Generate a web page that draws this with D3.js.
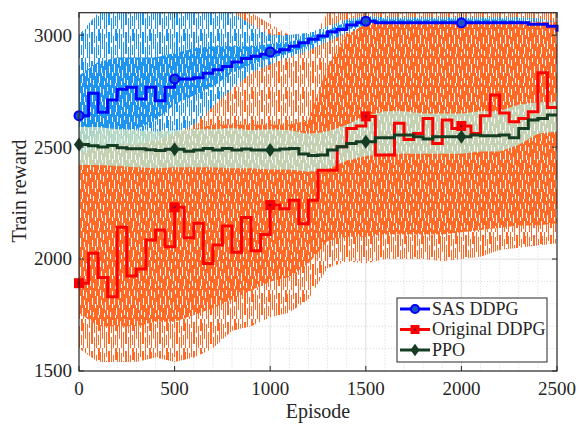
<!DOCTYPE html>
<html><head><meta charset="utf-8">
<script src="https://cdn.jsdelivr.net/npm/d3@7"></script>
<style>
body{margin:0;background:#fff}
svg{display:block}
</style>
</head><body>
<svg id="chart" width="579" height="424" font-family="'Liberation Serif','DejaVu Serif','Times New Roman',serif"></svg>
<script>
// ---- data ----
const episodes = d3.range(0, 2501, 50);          // smoothed step positions
const envEpisodes = d3.range(0, 2501, 100);      // raw-envelope positions
const seriesNames = ["SAS DDPG", "Original DDPG", "PPO"];
const sasDDPG = [2640,2740,2655,2710,2758,2767,2715,2767,2707,2767,
  2804,2804,2810,2830,2845,2860,2880,2895,2905,2915,
  2924,2935,2950,2966,2981,2996,3015,3025,3045,3055,
  3062,3055,3055,3055,3055,3055,3055,3055,3055,3055,
  3055,3055,3055,3055,3055,3055,3055,3048,3048,3040,3015];
const originalDDPG = [1892,2026,1917,1832,2142,1924,1955,2085,2130,2055,
  2231,2095,2160,1980,2063,2147,2030,2186,2037,2110,
  2241,2224,2262,2158,2263,2397,2397,2501,2583,2594,
  2637,2464,2464,2606,2534,2561,2628,2516,2621,2583,
  2594,2561,2640,2732,2652,2613,2628,2658,2832,2677,2677];
const ppo = [2512,2506,2500,2507,2497,2493,2492,2488,2485,2490,
  2490,2481,2487,2494,2487,2494,2487,2491,2487,2487,
  2487,2491,2494,2469,2462,2465,2487,2501,2516,2524,
  2524,2542,2542,2554,2554,2546,2536,2546,2546,2546,
  2546,2554,2550,2550,2554,2542,2583,2621,2628,2643,2643];
// raw (unsmoothed) reward: full extent and dense core, every 100 episodes
const sasRawHigh = [3000,3100,3100,3100,3100,3100,3100,3100,3100,3050,3000,3000,3010,3040,3070,3085,3080,3080,3080,3080,3080,3080,3080,3080,3075,3060];
const sasRawLow  = [2400,2350,2340,2350,2420,2550,2600,2680,2760,2830,2870,2900,2930,2970,3010,3035,3035,3035,3035,3035,3035,3035,3035,3030,3025,3000];
const sasCoreHigh = [2820,2880,2900,2900,2900,2920,2940,2950,2950,2950,2960,2970,2990,3020,3060,3075,3070,3070,3070,3070,3070,3070,3070,3065,3060,3045];
const sasCoreLow  = [2520,2560,2580,2580,2620,2690,2730,2770,2830,2870,2895,2920,2950,2990,3025,3045,3045,3045,3045,3045,3045,3040,3040,3035,3030,3010];
const origRawHigh = [2650,2700,2750,2750,2800,2900,3000,3100,3100,3100,3050,3000,2950,3100,3100,3100,3100,3100,3100,3100,3100,3100,3100,3100,3100,3100];
const origRawLow  = [1600,1540,1540,1540,1560,1540,1560,1600,1680,1700,1740,1760,1820,1960,1990,1980,2000,2000,2000,1990,2000,2010,2040,2050,2060,2070];
const origCoreHigh = [2470,2500,2510,2510,2530,2560,2580,2600,2600,2600,2600,2600,2620,2860,3000,3050,3060,3060,3060,3060,3060,3060,3060,3060,3060,3060];
const origCoreLow  = [1760,1700,1700,1700,1720,1720,1750,1780,1820,1860,1900,1920,1980,2080,2100,2100,2110,2110,2110,2110,2120,2130,2140,2150,2150,2160];
const ppoRawHigh = [2590,2590,2580,2575,2570,2575,2580,2580,2585,2575,2580,2575,2560,2570,2600,2640,2660,2660,2650,2650,2650,2660,2660,2690,2700,2700];
const ppoRawLow  = [2420,2420,2415,2410,2405,2410,2410,2410,2405,2405,2400,2400,2390,2400,2440,2460,2470,2470,2470,2470,2470,2480,2480,2510,2560,2570];
const xTicks = [0,500,1000,1500,2000,2500];
const yTicks = [1500,2000,2500,3000];
const markerIdx = [0,10,20,30,40];

// ---- layout ----
const svg = d3.select("#chart");
const L = 79, R = 557, T = 12.7, B = 371;
const x = d3.scaleLinear().domain([0,2500]).range([L,R]);
const y = d3.scaleLinear().domain([1500,3100]).range([B,T]);
const ink = "#262626";

const defs = svg.append("defs");
defs.append("clipPath").attr("id","clip").append("rect")
  .attr("x",L).attr("y",T).attr("width",R-L).attr("height",B-T);
// streak textures (decoration only)
const PW = 17, PH = 29;
const denseGaps = [[1,2,6],[3,12,8],[5,0,4],[5,20,5],[7,8,7],[8,22,5],[10,1,5],[10,14,4],[12,6,9],[14,18,7],[15,0,6],[16,10,5],[2,23,4],[13,25,3],[0,15,3]];
const sparseStreaks = [[0,0,1,20],[2,5,1,24],[4,0,1,9],[4,13,1,16],[6,3,2,22],[9,0,1,14],[9,18,1,11],[11,7,1,22],[13,0,2,12],[13,16,1,10],[15,4,1,25]];
function densePattern(id, color){
  const p = defs.append("pattern").attr("id",id).attr("patternUnits","userSpaceOnUse")
    .attr("width",PW).attr("height",PH);
  p.append("rect").attr("width",PW).attr("height",PH).attr("fill",color);
  denseGaps.forEach(([gx,gy,h])=>p.append("rect").attr("x",gx).attr("y",gy).attr("width",1).attr("height",h).attr("fill","#fff"));
}
function sparsePattern(id, color){
  const p = defs.append("pattern").attr("id",id).attr("patternUnits","userSpaceOnUse")
    .attr("width",PW).attr("height",PH);
  sparseStreaks.forEach(([sx,sy,w,h])=>p.append("rect").attr("x",sx).attr("y",sy).attr("width",w).attr("height",h).attr("fill",color));
}
densePattern("dBlue","#1e96f0");  sparsePattern("sBlue","#1e96f0");
densePattern("dOrange","#ff6a26"); sparsePattern("sOrange","#ff6a26");
densePattern("dGreen","#bddcc1");

// grid
const g = svg.append("g");
g.selectAll(".vmin").data(d3.range(100,2500,100).filter(v=>v%500)).enter().append("line")
  .attr("x1",d=>x(d)).attr("x2",d=>x(d)).attr("y1",T).attr("y2",B)
  .attr("stroke","#cfcfcf").attr("stroke-width",0.8).attr("stroke-dasharray","1,2");
g.selectAll(".hmin").data(d3.range(1600,3100,100).filter(v=>v%500)).enter().append("line")
  .attr("y1",d=>y(d)).attr("y2",d=>y(d)).attr("x1",L).attr("x2",R)
  .attr("stroke","#cfcfcf").attr("stroke-width",0.8).attr("stroke-dasharray","1,2");
g.selectAll(".vmaj").data(xTicks.slice(1,-1)).enter().append("line")
  .attr("x1",d=>x(d)).attr("x2",d=>x(d)).attr("y1",T).attr("y2",B)
  .attr("stroke","#e3e3e3").attr("stroke-width",1.2);
g.selectAll(".hmaj").data(yTicks.slice(1)).enter().append("line")
  .attr("y1",d=>y(d)).attr("y2",d=>y(d)).attr("x1",L).attr("x2",R)
  .attr("stroke","#e3e3e3").attr("stroke-width",1.2);

// raw envelopes
const plot = svg.append("g").attr("clip-path","url(#clip)");
function band(hi, lo, fill, op){
  const data = envEpisodes.map((e,i)=>({e, hi:hi[i], lo:lo[i]}));
  plot.append("path").datum(data)
    .attr("d", d3.area().x(d=>x(d.e)).y0(d=>y(d.lo)).y1(d=>y(d.hi)))
    .attr("fill", fill).attr("opacity", op);
}
band(origRawHigh, origRawLow, "url(#sOrange)", 1);
band(sasRawHigh, sasRawLow, "url(#sBlue)", 1);
band(sasCoreHigh, sasCoreLow, "url(#dBlue)", 1);
band(origCoreHigh, origCoreLow, "url(#dOrange)", 1);
band(ppoRawHigh, ppoRawLow, "url(#dGreen)", 0.9);

// smoothed step lines
const seriesDefs = [
  {vals: sasDDPG, color:"#0000ff", marker:"circle"},
  {vals: originalDDPG, color:"#ff0000", marker:"square"},
  {vals: ppo, color:"#153d24", marker:"diamond"}
];
const lineGen = d3.line().x(d=>x(d.e)).y(d=>y(d.v)).curve(d3.curveStepAfter);
function drawMarker(sel, type, color, cx, cy, s){
  if(type==="circle"){
    sel.append("circle").attr("cx",cx).attr("cy",cy).attr("r",4.5*s)
      .attr("fill","#1f4bd8").attr("stroke",color).attr("stroke-width",2);
    sel.append("circle").attr("cx",cx).attr("cy",cy).attr("r",1.3*s).attr("fill","#0a6f8a");
  } else if(type==="square"){
    sel.append("rect").attr("x",cx-5*s).attr("y",cy-5*s).attr("width",10*s).attr("height",10*s)
      .attr("fill",color);
    sel.append("circle").attr("cx",cx).attr("cy",cy).attr("r",1.3*s).attr("fill","#8a0a3a");
  } else {
    const r = 7*s;
    sel.append("path").attr("d",`M${cx},${cy-r}L${cx+r*0.72},${cy}L${cx},${cy+r}L${cx-r*0.72},${cy}Z`)
      .attr("fill",color);
  }
}
const lines = svg.append("g");
seriesDefs.forEach(s=>{
  const data = episodes.map((e,i)=>({e, v:s.vals[i]}));
  lines.append("path").datum(data).attr("d",lineGen)
    .attr("fill","none").attr("stroke",s.color).attr("stroke-width",3).attr("stroke-linejoin","miter");
});
seriesDefs.forEach(s=>{
  markerIdx.forEach(i=>drawMarker(lines, s.marker, s.color, x(episodes[i]), y(s.vals[i]), 1));
});

// axes box & ticks
const ax = svg.append("g").attr("fill",ink);
ax.append("rect").attr("x",L).attr("y",T).attr("width",R-L).attr("height",B-T)
  .attr("fill","none").attr("stroke",ink).attr("stroke-width",1.2);
xTicks.forEach(t=>{
  ax.append("line").attr("x1",x(t)).attr("x2",x(t)).attr("y1",B).attr("y2",B-5).attr("stroke",ink);
  ax.append("line").attr("x1",x(t)).attr("x2",x(t)).attr("y1",T).attr("y2",T+5).attr("stroke",ink);
  ax.append("text").attr("x",x(t)).attr("y",395).attr("text-anchor","middle")
    .attr("font-size",19).text(t);
});
yTicks.forEach(t=>{
  ax.append("line").attr("x1",L).attr("x2",L+5).attr("y1",y(t)).attr("y2",y(t)).attr("stroke",ink);
  ax.append("line").attr("x1",R).attr("x2",R-5).attr("y1",y(t)).attr("y2",y(t)).attr("stroke",ink);
  ax.append("text").attr("x",72).attr("y",y(t)).attr("dy","0.34em").attr("text-anchor","end")
    .attr("font-size",19).text(t);
});
ax.append("text").attr("x",(L+R)/2).attr("y",418).attr("text-anchor","middle")
  .attr("font-size",20).text("Episode");
ax.append("text").attr("transform","translate(26,191) rotate(-90)").attr("text-anchor","middle")
  .attr("font-size",20).text("Train reward");

// legend
const lg = svg.append("g").attr("fill",ink);
lg.append("rect").attr("x",397).attr("y",298).attr("width",150).attr("height",64)
  .attr("fill","#fff").attr("stroke",ink).attr("stroke-width",1);
seriesDefs.forEach((s,i)=>{
  const cy = 309 + i*20.5;
  lg.append("line").attr("x1",400).attr("x2",430).attr("y1",cy).attr("y2",cy)
    .attr("stroke",s.color).attr("stroke-width",3);
  drawMarker(lg, s.marker, s.color, 415, cy, 0.9);
  lg.append("text").attr("x",432).attr("y",cy).attr("dy","0.33em").attr("font-size",18)
    .text(seriesNames[i]);
});
</script>
</body></html>
